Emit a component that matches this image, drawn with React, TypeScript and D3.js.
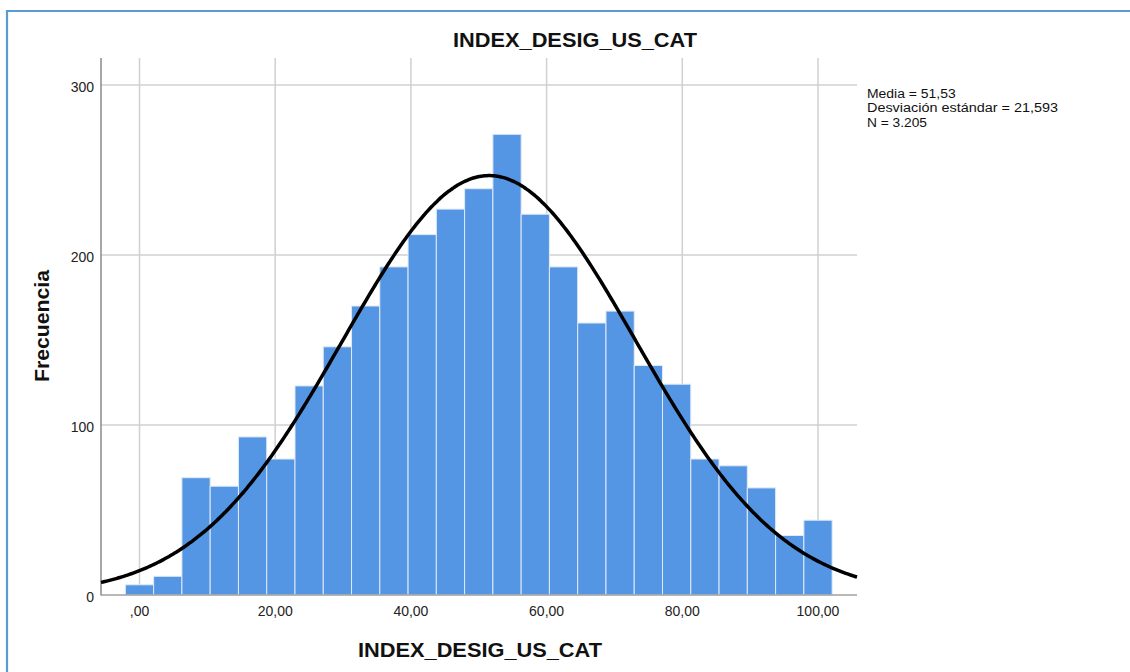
import React from "react";
import * as d3 from "d3";

const binCenters = [0, 4.1667, 8.3333, 12.5, 16.6667, 20.8333, 25, 29.1667, 33.3333, 37.5, 41.6667, 45.8333, 50, 54.1667, 58.3333, 62.5, 66.6667, 70.8333, 75, 79.1667, 83.3333, 87.5, 91.6667, 95.8333, 100];
const binCounts = [6, 11, 69, 64, 93, 80, 123, 146, 170, 193, 212, 227, 239, 271, 224, 193, 160, 167, 135, 124, 80, 76, 63, 35, 44];
const binWidth = 100 / 24;
const xTicks = [0, 20, 40, 60, 80, 100];
const xTickLabels = [",00", "20,00", "40,00", "60,00", "80,00", "100,00"];
const yTicks = [0, 100, 200, 300];
const meanValue = 51.53;
const sdValue = 21.593;
const nValue = 3205;
const legendLines = ["Media = 51,53", "Desviación estándar = 21,593", "N = 3.205"];
const legendWidths = [88.7, 191, 60];
const title = "INDEX_DESIG_US_CAT";
const xLabel = "INDEX_DESIG_US_CAT";
const yLabel = "Frecuencia";

const W = 1130;
const H = 672;
const left = 101;
const right = 857;
const top = 58;
const bottom = 595;

export default function App() {
  const x = d3.scaleLinear().domain([0, 100]).range([139.5, 818]);
  const xDomainLeft = x.invert(left);
  const xDomainRight = x.invert(right);
  const y = d3.scaleLinear().domain([0, 300]).range([bottom, 85]);

  const pdf = (v: number) =>
    (nValue * binWidth) / (sdValue * Math.sqrt(2 * Math.PI)) *
    Math.exp(-0.5 * ((v - meanValue) / sdValue) ** 2);
  const curvePts = d3.range(0, 401).map((i) => xDomainLeft + (i / 400) * (xDomainRight - xDomainLeft));
  const line = d3
    .line<number>()
    .x((d) => x(d))
    .y((d) => y(pdf(d)))
    .curve(d3.curveBasis);

  const font = "'Liberation Sans', Arial, sans-serif";
  const grid = "#d0d0d0";

  return (
    <svg
      width={W}
      height={H}
      style={{ position: "absolute", left: 0, top: 0, background: "#fff" }}
      fontFamily={font}
    >
      <rect x={0} y={0} width={W} height={H} fill="#fff" />
      <path d={`M7,${H + 5} L7,11 L${W + 5},11`} fill="none" stroke="#5b9bd5" strokeWidth={2.2} />

      {/* gridlines */}
      {xTicks.map((t) => (
        <line key={"gx" + t} x1={x(t)} x2={x(t)} y1={top} y2={bottom} stroke={grid} strokeWidth={1.5} />
      ))}
      {yTicks.filter((t) => t > 0).map((t) => (
        <line key={"gy" + t} x1={left} x2={right} y1={y(t)} y2={y(t)} stroke={grid} strokeWidth={1.5} />
      ))}

      {/* bars */}
      {binCenters.map((c, i) => (
        <rect
          key={"b" + i}
          x={x(c - binWidth / 2)}
          y={y(binCounts[i])}
          width={x(c + binWidth / 2) - x(c - binWidth / 2)}
          height={y(0) - y(binCounts[i])}
          fill="#5596e4"
          stroke="#dfe9f8"
          strokeWidth={1}
        />
      ))}

      {/* axes */}
      <line x1={left} x2={left} y1={top} y2={bottom + 0.5} stroke="#8a8a8a" strokeWidth={1.5} />
      <line x1={left} x2={right} y1={bottom} y2={bottom} stroke="#a0a0a0" strokeWidth={1.5} />

      {/* curve */}
      <path d={line(curvePts) || ""} fill="none" stroke="#000" strokeWidth={3.5} />

      {/* tick labels */}
      {yTicks.map((t) => (
        <text key={"yt" + t} x={94} y={y(t) + 7} textAnchor="end" fontSize={14} fill="#222">
          {t}
        </text>
      ))}
      {xTicks.map((t, i) => (
        <text key={"xt" + t} x={x(t)} y={616} textAnchor="middle" fontSize={14} fill="#222">
          {xTickLabels[i]}
        </text>
      ))}

      {/* titles */}
      <text x={575} y={47.3} textAnchor="middle" fontSize={20} fontWeight="bold" fill="#111" textLength={244} lengthAdjust="spacingAndGlyphs">
        {title}
      </text>
      <text x={480} y={657} textAnchor="middle" fontSize={21} fontWeight="bold" fill="#111" textLength={244} lengthAdjust="spacingAndGlyphs">
        {xLabel}
      </text>
      <text
        transform={`translate(48.5,326) rotate(-90)`}
        textAnchor="middle"
        fontSize={20}
        fontWeight="bold"
        fill="#111"
        textLength={112}
        lengthAdjust="spacingAndGlyphs"
      >
        {yLabel}
      </text>

      {/* legend */}
      {legendLines.map((l, i) => (
        <text key={"lg" + i} x={867} y={98 + i * 14.3} fontSize={12.5} fill="#111" textLength={legendWidths[i]} lengthAdjust="spacingAndGlyphs">
          {l}
        </text>
      ))}
    </svg>
  );
}
